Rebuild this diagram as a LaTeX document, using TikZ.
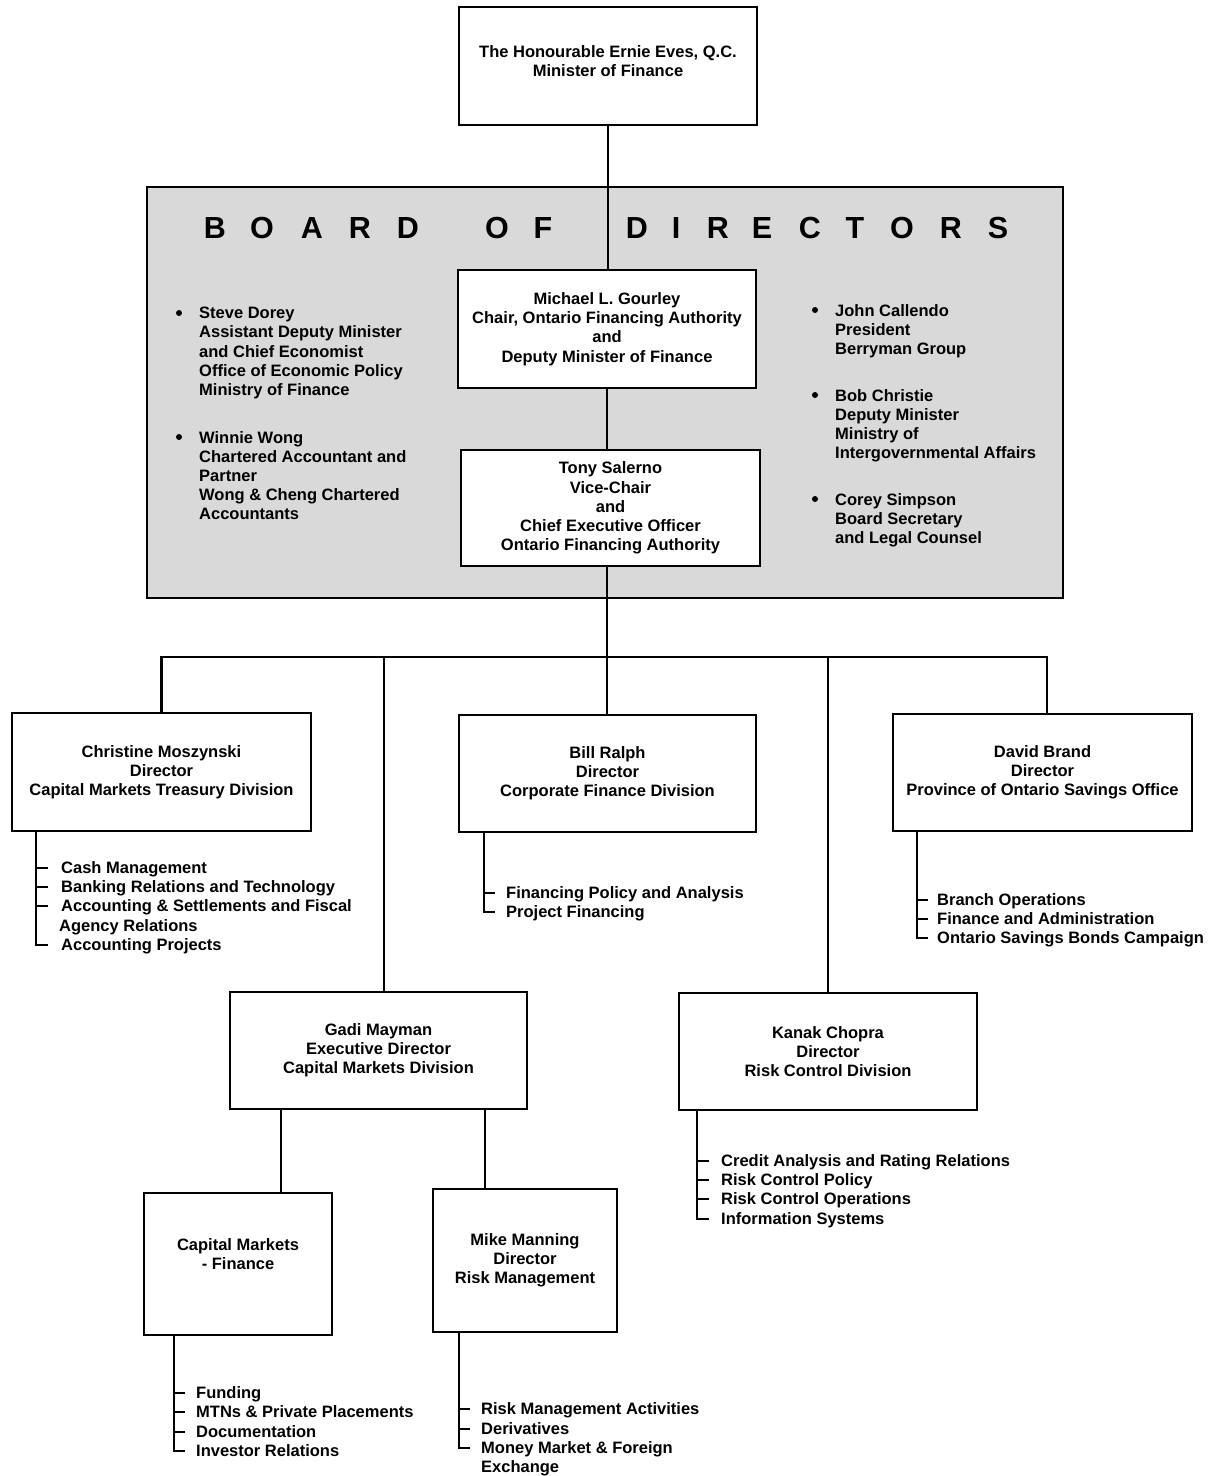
\documentclass[tikz,border=0pt]{standalone}
\usepackage{fontspec}
\setmainfont{Liberation Sans}
\usetikzlibrary{positioning}

\begin{document}
\begin{tikzpicture}[x=1pt,y=-1pt,
    every node/.style={font=\fontsize{16.5}{19.2}\selectfont\bfseries},
    box/.style={draw,line width=2.6pt,fill=white,align=center,inner sep=0pt},
    link/.style={line width=2.6pt},
    item/.style={anchor=west,inner sep=0pt,text height=11.8pt,text depth=0pt},
    member/.style={anchor=north west,inner sep=0pt,align=left},
    letter/.style={font=\fontsize{30.5}{36}\selectfont\bfseries}]
  \useasboundingbox (0,0) rectangle (1208,1476);

  % board of directors panel
  \draw[link,fill=black!15] (147,187) rectangle (1063,598);
  \foreach \ch/\xx [count=\i] in {B/215,O/262,A/312,R/360,D/408,O/497,F/543,D/637,I/676,R/718,E/762,C/810,T/855,O/902,R/951,S/998}
    \node[letter] (t\i) at (\xx,228) {\ch};

  % boxes
  \node[box,minimum width=298pt,minimum height=118pt,text depth=10pt] (minister) at (608,66) {The Honourable Ernie Eves, Q.C.\\Minister of Finance};
  \node[box,minimum width=298pt,minimum height=118pt] (gourley) at (607,329) {Michael L. Gourley\\Chair, Ontario Financing Authority\\and\\Deputy Minister of Finance};
  \node[box,minimum width=299pt,minimum height=116pt] (salerno) at (610.5,508) {Tony Salerno\\Vice-Chair\\and\\Chief Executive Officer\\Ontario Financing Authority};
  \node[box,minimum width=299pt,minimum height=118pt] (mosz) at (161.5,772) {Christine Moszynski\\Director\\Capital Markets Treasury Division};
  \node[box,minimum width=297pt,minimum height=117pt] (ralph) at (607.5,773.5) {Bill Ralph\\Director\\Corporate Finance Division};
  \node[box,minimum width=299pt,minimum height=117pt] (brand) at (1042.5,772.5) {David Brand\\Director\\Province of Ontario Savings Office};
  \node[box,minimum width=297pt,minimum height=117pt] (mayman) at (378.5,1050.5) {Gadi Mayman\\Executive Director\\Capital Markets Division};
  \node[box,minimum width=298pt,minimum height=117pt] (chopra) at (828,1051.5) {Kanak Chopra\\Director\\Risk Control Division};
  \node[box,minimum width=188pt,minimum height=142pt,text depth=20pt] (capfin) at (238,1264) {Capital Markets\\- Finance};
  \node[box,minimum width=184pt,minimum height=143pt] (manning) at (525,1260.5) {Mike Manning\\Director\\Risk Management};

  % board members
  \node[member] (dorey) at (199,307) {Steve Dorey\\Assistant Deputy Minister\\and Chief Economist\\Office of Economic Policy\\Ministry of Finance};
  \node[member] (wong) at (199,431) {Winnie Wong\\Chartered Accountant and\\Partner\\Wong \& Cheng Chartered\\Accountants};
  \node[member] (callendo) at (835,304) {John Callendo\\President\\Berryman Group};
  \node[member] (christie) at (835,389) {Bob Christie\\Deputy Minister\\Ministry of\\Intergovernmental Affairs};
  \node[member] (simpson) at (835,493) {Corey Simpson\\Board Secretary\\and Legal Counsel};
  \foreach \n in {dorey,wong,callendo,christie,simpson}
    \fill ([xshift=-20pt,yshift=-6pt]\n.north west) circle (3pt);

  % connectors
  \coordinate (bus) at (607,657);
  \draw[link] (minister.south) -- (minister.south |- gourley.north);
  \draw[link] (gourley.south) -- (gourley.south |- salerno.north);
  \draw[link] (salerno.south -| bus) -- (bus);
  \draw[link] (mosz.north) |- ([xshift=4.5pt]brand.north |- bus) -- ([xshift=4.5pt]brand.north);
  \draw[link] (bus) -- (bus |- ralph.north);
  \draw[link] ([xshift=5.5pt]mayman.north) -- ([xshift=5.5pt]mayman.north |- bus);
  \draw[link] (chopra.north) -- (chopra.north |- bus);
  \draw[link] ([xshift=43pt]capfin.north) -- ([xshift=43pt]capfin.north |- mayman.south);
  \draw[link] ([xshift=-40pt]manning.north) -- ([xshift=-40pt]manning.north |- mayman.south);

  % capital markets treasury
  \node[item] (m1) at (61,868) {Cash Management};
  \node[item] (m2) at (61,887) {Banking Relations and Technology};
  \node[item] (m3) at (61,906) {Accounting \& Settlements and Fiscal};
  \node[item] (m3b) at (59,926) {Agency Relations};
  \node[item] (m4) at (61,945) {Accounting Projects};
  \coordinate (mv) at ([xshift=-25pt]m4.west);
  \draw[link] (mv |- mosz.south) |- ([xshift=-13pt]m4.west);
  \foreach \n in {m1,m2,m3}
    \draw[link] (mv |- \n.west) -- ([xshift=-13pt]\n.west);

  % corporate finance
  \node[item] (r1) at (506,893) {Financing Policy and Analysis};
  \node[item] (r2) at (506,912) {Project Financing};
  \coordinate (rv) at ([xshift=-22pt]r2.west);
  \draw[link] (rv |- ralph.south) |- ([xshift=-11pt]r2.west);
  \draw[link] (rv |- r1.west) -- ([xshift=-11pt]r1.west);

  % savings office
  \node[item] (b1) at (937,900) {Branch Operations};
  \node[item] (b2) at (937,919) {Finance and Administration};
  \node[item] (b3) at (937,938) {Ontario Savings Bonds Campaign};
  \coordinate (bv) at ([xshift=-20pt]b3.west);
  \draw[link] (bv |- brand.south) |- ([xshift=-9pt]b3.west);
  \foreach \n in {b1,b2}
    \draw[link] (bv |- \n.west) -- ([xshift=-9pt]\n.west);

  % risk control
  \node[item] (k1) at (721,1161) {Credit Analysis and Rating Relations};
  \node[item] (k2) at (721,1180) {Risk Control Policy};
  \node[item] (k3) at (721,1199) {Risk Control Operations};
  \node[item] (k4) at (721,1219) {Information Systems};
  \coordinate (kv) at ([xshift=-24pt]k4.west);
  \draw[link] (kv |- chopra.south) |- ([xshift=-12pt]k4.west);
  \foreach \n in {k1,k2,k3}
    \draw[link] (kv |- \n.west) -- ([xshift=-12pt]\n.west);

  % capital markets finance
  \node[item] (f1) at (196,1393) {Funding};
  \node[item] (f2) at (196,1412) {MTNs \& Private Placements};
  \node[item] (f3) at (196,1432) {Documentation};
  \node[item] (f4) at (196,1451) {Investor Relations};
  \coordinate (fv) at ([xshift=-22pt]f4.west);
  \draw[link] (fv |- capfin.south) |- ([xshift=-11pt]f4.west);
  \foreach \n in {f1,f2,f3}
    \draw[link] (fv |- \n.west) -- ([xshift=-11pt]\n.west);

  % risk management
  \node[item] (g1) at (481,1409) {Risk Management Activities};
  \node[item] (g2) at (481,1429) {Derivatives};
  \node[item] (g3) at (481,1448) {Money Market \& Foreign};
  \node[item] (g3b) at (481,1467) {Exchange};
  \coordinate (gv) at ([xshift=-22pt]g3.west);
  \draw[link] (gv |- manning.south) |- ([xshift=-11pt]g3.west);
  \foreach \n in {g1,g2}
    \draw[link] (gv |- \n.west) -- ([xshift=-11pt]\n.west);
\end{tikzpicture}
\end{document}
